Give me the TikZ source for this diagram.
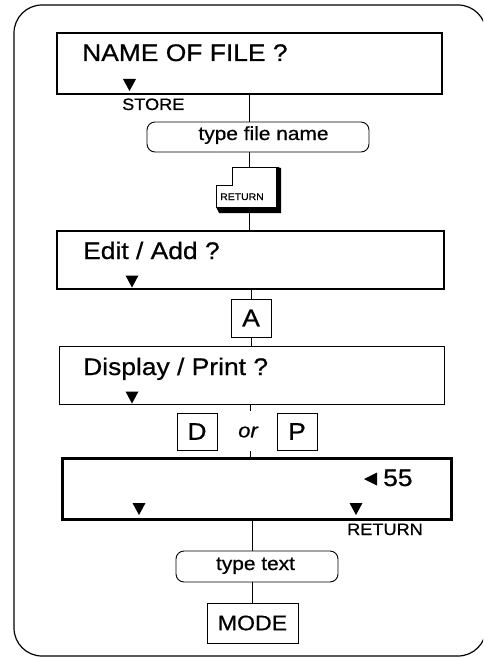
\documentclass[tikz,border=0pt]{standalone}
\usepackage{fontspec}
\setmainfont{Liberation Sans}[FakeStretch=1.1,FakeBold=0.7]
\begin{document}
\begin{tikzpicture}[x=1pt,y=-1pt,
  lcd/.style={draw, rectangle, inner sep=0pt},
  keybox/.style={draw, rectangle, inner sep=0pt, line width=0.9pt},
  rbox/.style={draw, rectangle, rounded corners=8pt, inner sep=0pt, line width=0.9pt},
  txt/.style={inner sep=0pt},
  big/.style={font=\fontsize{24}{28}\selectfont},
  med/.style={font=\fontsize{19}{22}\selectfont},
  lab/.style={font=\fontsize{16.5}{19}\selectfont},
  conn/.style={line width=0.8pt},
  downtri/.pic={\fill (-6.5,-6) -- (6.5,-6) -- (0,6) -- cycle;},
  lefttri/.pic={\fill (-6.5,0) -- (6.5,-6.5) -- (6.5,6.5) -- cycle;}
]
\useasboundingbox (0,0) rectangle (483,658);
\clip (0,0) rectangle (483,658);
% outer frame
\draw[line width=1.2pt, rounded corners=28pt] (14,5) rectangle (486,656);

% first display
\node[lcd, line width=2.4pt, minimum width=385pt, minimum height=61pt] (b1) at (249.5,63.5) {};
\node[txt, big, anchor=base west] (t1) at (82,61) {NAME OF FILE ?};
\pic (tri1) at (129.5,85) {downtri};
\node[txt, lab, anchor=base west] (store) at (122,110) {STORE};

% type file name
\node[rbox, minimum width=222pt, minimum height=30pt] (tfn) at (258,137) {};
\node[txt, med, anchor=base] (tfnt) at (263.5,140) {type file name};

% RETURN key
\coordinate (keytop) at (249,167);
\coordinate (keybot) at (249,213);
\draw[line width=0.8pt] (232,167) -- (278,167) -- (278,207) -- (216,207) -- (216,185) -- (232,185) -- cycle;
\fill (276,167) -- (281,168) -- (281,213) -- (219,213) -- (216,207) -- (276,207) -- cycle;
\node[txt, font=\fontsize{9.5}{11}\selectfont, anchor=base west] (ret1) at (220,200) {RETURN};

% second display
\node[lcd, line width=2pt, minimum width=387pt, minimum height=58pt] (b2) at (250.5,260) {};
\node[txt, big, anchor=base west] (t2) at (83,259) {Edit / Add ?};
\pic (tri2) at (132,281.5) {downtri};

% A key
\node[keybox, big, minimum width=40pt, minimum height=38pt] (A) at (251,318) {A};

% third display
\node[lcd, line width=1pt, minimum width=385pt, minimum height=58pt] (b3) at (251.5,375) {};
\node[txt, big, anchor=base west] (t3) at (83,375) {Display / Print ?};
\pic (tri3) at (132,397.5) {downtri};

% D or P
\node[keybox, big, minimum width=40pt, minimum height=37pt] (D) at (197,431.5) {D};
\node[keybox, big, minimum width=40pt, minimum height=37pt] (P) at (297,431.5) {P};
\node[txt, font=\fontsize{20}{24}\selectfont\itshape] (or) at (248,432) {or};
\coordinate (rowtop) at (250,411);
\coordinate (rowbot) at (250,451);

% fourth display
\node[lcd, line width=3pt, minimum width=389pt, minimum height=61pt] (b4) at (256.5,488.5) {};
\pic (larr) at (370.5,479) {lefttri};
\node[txt, big, anchor=base west] (n55) at (383,486) {55};
\pic (tri4a) at (139,509) {downtri};
\pic (tri4b) at (356,509) {downtri};
\node[txt, lab, anchor=base west] (ret2) at (347,535) {RETURN};

% type text
\node[rbox, minimum width=162pt, minimum height=31pt] (tt) at (257,566.5) {};
\node[txt, med, anchor=base] (ttt) at (255.5,570) {type text};

% MODE
\node[keybox, font=\fontsize{21}{25}\selectfont, minimum width=91pt, minimum height=40pt] (mode) at (252.5,623) {MODE};

% connectors
\draw[conn] (keytop |- b1.south) -- (keytop |- tfn.north);
\draw[conn] (keytop |- tfn.south) -- (keytop);
\draw[conn] (keybot) -- (keybot |- b2.north);
\draw[conn] (A.north |- b2.south) -- (A.north);
\draw[conn] (A.south) -- (A.south |- b3.north);
\draw[conn] (rowtop |- b3.south) -- (rowtop);
\draw[conn] (rowbot) -- (rowbot |- b4.north);
\draw[conn] (mode.north |- b4.south) -- (mode.north |- tt.north);
\draw[conn] (mode.north |- tt.south) -- (mode.north);
\end{tikzpicture}
\end{document}
